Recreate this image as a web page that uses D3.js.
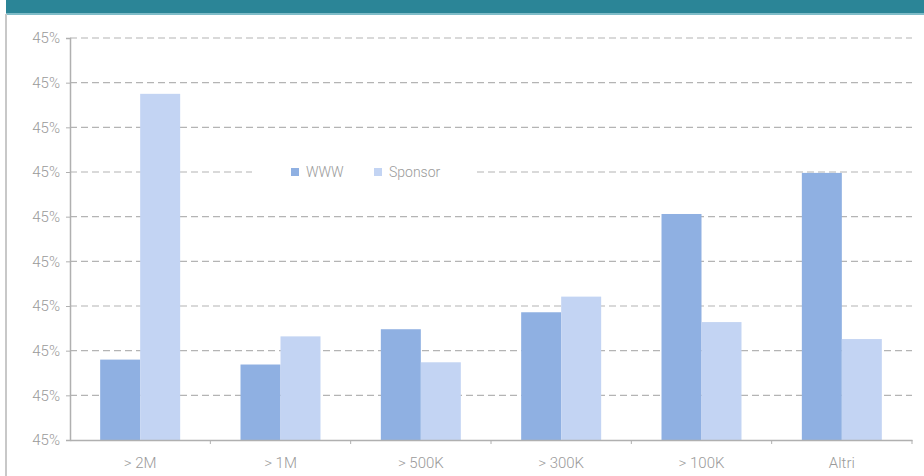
<!DOCTYPE html>
<html>
<head>
<meta charset="utf-8">
<script src="https://cdn.jsdelivr.net/npm/d3@7"></script>
<style>
  html, body { margin: 0; padding: 0; background: #fff; }
  svg { display: block; }
  text { font-family: Roboto, "Open Sans", sans-serif; font-weight: 300; }
</style>
</head>
<body>
<svg id="chart" width="924" height="476"></svg>
<script>
const categories = ["> 2M", "> 1M", "> 500K", "> 300K", "> 100K", "Altri"];
const seriesNames = ["WWW", "Sponsor"];
const wwwValues = [1.80, 1.69, 2.48, 2.86, 5.06, 5.98];
const sponsorValues = [7.75, 2.32, 1.74, 3.21, 2.64, 2.26];
const tickValues = [0, 1, 2, 3, 4, 5, 6, 7, 8, 9];
const tickLabels = ["45%", "45%", "45%", "45%", "45%", "45%", "45%", "45%", "45%", "45%"];
const colors = ["#8fb0e2", "#c3d4f3"];

const svg = d3.select("#chart");
const W = 924, H = 476;
const margin = { left: 70, right: 12, top: 38, bottom: 36 };

// header band and frame
svg.append("rect").attr("x", 6).attr("y", 0).attr("width", W - 6).attr("height", 14).attr("fill", "#2b8597");
svg.append("rect").attr("x", 6).attr("y", 13).attr("width", W - 6).attr("height", 2).attr("fill", "#7fbcc8");
svg.append("line").attr("x1", 6).attr("x2", 6).attr("y1", 14).attr("y2", H)
  .attr("stroke", "#c8c8c8").attr("stroke-width", 2);

const x0 = d3.scaleBand().domain(categories).range([margin.left, W - margin.right]).padding(0);
const groupW = x0.bandwidth() * 0.57;
const x1 = d3.scaleBand().domain(seriesNames).range([0, groupW]).padding(0);
const y = d3.scaleLinear().domain([0, 9]).range([H - margin.bottom, margin.top]);

// grid
svg.append("g").selectAll("line").data(tickValues.slice(1)).join("line")
  .attr("x1", margin.left).attr("x2", W - margin.right)
  .attr("y1", d => y(d)).attr("y2", d => y(d))
  .attr("stroke", "#b4b4b4").attr("stroke-width", 1.2).attr("stroke-dasharray", "7,4");

// bars
const data = categories.map((c, i) => ({ c, vals: [wwwValues[i], sponsorValues[i]] }));
const g = svg.append("g").selectAll("g").data(data).join("g")
  .attr("transform", d => `translate(${x0(d.c) + (x0.bandwidth() - groupW) / 2},0)`);
g.selectAll("rect").data(d => d.vals.map((v, k) => ({ k, v }))).join("rect")
  .attr("x", d => x1(seriesNames[d.k]))
  .attr("width", x1.bandwidth())
  .attr("y", d => y(d.v))
  .attr("height", d => y(0) - y(d.v))
  .attr("fill", d => colors[d.k]);

// y axis
const yAxis = svg.append("g").attr("transform", `translate(${margin.left},0)`)
  .call(d3.axisLeft(y).tickValues(tickValues).tickFormat((d, i) => tickLabels[i]).tickSize(4).tickPadding(6));
yAxis.select(".domain").attr("stroke", "#b0b0b0").attr("stroke-width", 1.5);
yAxis.selectAll(".tick line").attr("stroke", "#b0b0b0");
yAxis.selectAll("text").attr("fill", "#9a9a9a").attr("font-size", 15);

// x axis
const xAxis = svg.append("g").attr("transform", `translate(0,${y(0)})`)
  .call(d3.axisBottom(x0).tickSize(0).tickPadding(17));
xAxis.select(".domain").attr("stroke", "#b0b0b0").attr("stroke-width", 1.5);
xAxis.selectAll("text").attr("fill", "#9a9a9a").attr("font-size", 15);
svg.append("g").selectAll("line").data(categories).join("line")
  .attr("x1", d => x0(d) + x0.bandwidth()).attr("x2", d => x0(d) + x0.bandwidth())
  .attr("y1", y(0)).attr("y2", y(0) + 4)
  .attr("stroke", "#b0b0b0");

// legend
const lg = svg.append("g");
lg.append("rect").attr("x", 252).attr("y", 160).attr("width", 222).attr("height", 24).attr("fill", "#fff");
const items = [{ n: seriesNames[0], x: 291 }, { n: seriesNames[1], x: 374 }];
items.forEach((it, k) => {
  lg.append("rect").attr("x", it.x).attr("y", y(6) - 4).attr("width", 8).attr("height", 8).attr("fill", colors[k]);
  lg.append("text").attr("x", it.x + 15).attr("y", y(6)).attr("dy", "0.35em")
    .attr("fill", "#9a9a9a").attr("font-size", 14).text(it.n);
});
</script>
</body>
</html>
